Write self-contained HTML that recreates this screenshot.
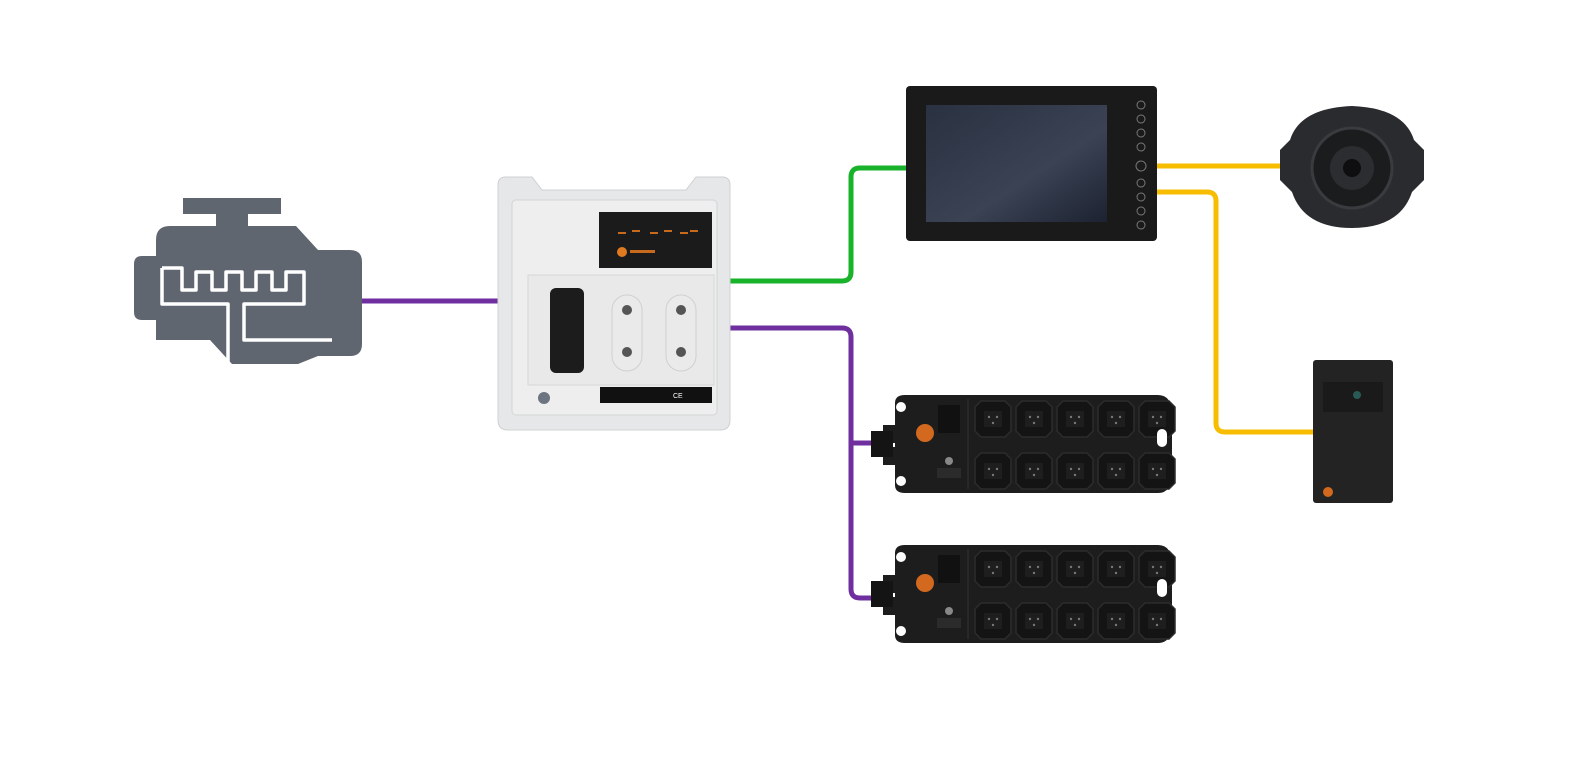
<!DOCTYPE html>
<html><head><style>html,body{margin:0;padding:0;background:#fff;}svg{display:block}</style></head>
<body>
<svg width="1595" height="761" viewBox="0 0 1595 761" xmlns="http://www.w3.org/2000/svg">
<defs>
<linearGradient id="scr" x1="0" y1="0" x2="1" y2="1"><stop offset="0" stop-color="#2a3140"/><stop offset="0.6" stop-color="#3a4254"/><stop offset="1" stop-color="#1c2230"/></linearGradient>
<g id="conn"><path d="M0 6 L6 0 H30 L36 6 V30 L30 36 H6 L0 30 Z" fill="#141414" stroke="#2c2c2c" stroke-width="1.5"/><rect x="9" y="10" width="18" height="16" fill="#1e1e1e"/><circle cx="14" cy="16" r="1.2" fill="#777"/><circle cx="22" cy="16" r="1.2" fill="#777"/><circle cx="18" cy="22" r="1.2" fill="#777"/></g>
<g id="io">
<path d="M12 8 Q12 0 22 0 H275 Q289 0 289 20 V78 Q289 98 275 98 H22 Q12 98 12 90 V70 H0 V52 H12 V48 H0 V30 H12 Z" fill="#1d1d1d"/>
<circle cx="18" cy="12" r="5" fill="#fff"/><circle cx="18" cy="86" r="5" fill="#fff"/>
<rect x="-12" y="36" width="22" height="26" fill="#141414"/>
<circle cx="42" cy="38" r="9" fill="#d2691e"/>
<rect x="55" y="10" width="22" height="28" fill="#111"/>
<circle cx="66" cy="66" r="4" fill="#888"/>
<rect x="54" y="73" width="24" height="10" fill="#2b2b2b"/>
<line x1="85" y1="4" x2="85" y2="94" stroke="#333"/>
<use href="#conn" x="92" y="6"/><use href="#conn" x="133" y="6"/><use href="#conn" x="174" y="6"/><use href="#conn" x="215" y="6"/><use href="#conn" x="256" y="6"/>
<use href="#conn" x="92" y="58"/><use href="#conn" x="133" y="58"/><use href="#conn" x="174" y="58"/><use href="#conn" x="215" y="58"/><use href="#conn" x="256" y="58"/>
<rect x="274" y="34" width="10" height="18" rx="5" fill="#fff"/>
</g>
</defs>

<!-- connectors -->
<g fill="none" stroke-width="5" stroke-linecap="butt">
<path d="M362 301 H500" stroke="#6f2f9f"/>
<path d="M730 281 H842 Q851 281 851 272 V177 Q851 168 860 168 H910" stroke="#19b32b"/>
<path d="M730 328 H842 Q851 328 851 337 V589 Q851 598 860 598 H880" stroke="#6f2f9f"/>
<path d="M851 443 H880" stroke="#6f2f9f"/>
<path d="M1155 166 H1282" stroke="#f7bd00"/>
<path d="M1155 192 H1207 Q1216 192 1216 201 V423 Q1216 432 1225 432 H1316" stroke="#f7bd00"/>
</g>

<!-- engine -->
<g fill="#5f6670">
<rect x="183" y="198" width="98" height="16"/>
<rect x="216" y="210" width="32" height="22"/>
<path d="M180 226 H296 L318 250 H350 Q362 250 362 262 V344 Q362 356 350 356 H318 L298 364 H232 L210 340 H156 V320 H142 Q134 320 134 312 V264 Q134 256 142 256 H156 V240 Q156 226 170 226 Z"/>
</g>
<g fill="none" stroke="#fff" stroke-width="3.5" stroke-linejoin="round">
<path d="M162 268 H182 V290 H196 V272 H212 V290 H226 V272 H242 V290 H256 V272 H272 V290 H286 V272 H304 V304 H244 V340 H332"/>
<path d="M162 268 V304 H228 V364"/>
</g>

<!-- controller -->
<path d="M498 185 Q498 177 506 177 H532 L542 190 H686 L696 177 H722 Q730 177 730 185 V420 Q730 430 720 430 H508 Q498 430 498 420 Z" fill="#e6e7e8" stroke="#cfd0d2"/>
<rect x="512" y="200" width="205" height="215" rx="4" fill="#eeeeef" stroke="#d3d4d5"/>
<rect x="599" y="212" width="113" height="56" fill="#1b1b1b"/>
<g fill="#c86a1d"><rect x="618" y="232" width="8" height="2"/><rect x="632" y="230" width="8" height="2"/><rect x="650" y="232" width="8" height="2"/><rect x="664" y="230" width="8" height="2"/><rect x="680" y="232" width="8" height="2"/><rect x="690" y="230" width="8" height="2"/></g>
<circle cx="622" cy="252" r="5" fill="#e07a20"/><rect x="630" y="250" width="25" height="3" fill="#c86a1d"/>
<rect x="528" y="275" width="186" height="110" fill="#e9e9ea" stroke="#d6d6d7"/>
<rect x="550" y="288" width="34" height="85" rx="6" fill="#1c1c1c"/>
<rect x="612" y="295" width="30" height="76" rx="15" fill="#eaeaea" stroke="#d0d0d0"/>
<rect x="666" y="295" width="30" height="76" rx="15" fill="#eaeaea" stroke="#d0d0d0"/>
<circle cx="627" cy="310" r="5" fill="#555"/><circle cx="627" cy="352" r="5" fill="#555"/>
<circle cx="681" cy="310" r="5" fill="#555"/><circle cx="681" cy="352" r="5" fill="#555"/>
<circle cx="544" cy="398" r="6" fill="#6c7480"/>
<rect x="600" y="387" width="112" height="16" fill="#111"/>
<text x="673" y="398" font-family="Liberation Sans, sans-serif" font-size="7" fill="#fff">CE</text>

<!-- display -->
<rect x="906" y="86" width="251" height="155" rx="4" fill="#1a1a1a"/>
<rect x="926" y="105" width="181" height="117" fill="url(#scr)"/>
<g fill="none" stroke="#777" stroke-width="1">
<circle cx="1141" cy="105" r="4"/><circle cx="1141" cy="119" r="4"/><circle cx="1141" cy="133" r="4"/><circle cx="1141" cy="147" r="4"/>
<circle cx="1141" cy="166" r="5"/>
<circle cx="1141" cy="183" r="4"/><circle cx="1141" cy="197" r="4"/><circle cx="1141" cy="211" r="4"/><circle cx="1141" cy="225" r="4"/>
</g>

<!-- camera -->
<path d="M1290 140 Q1300 108 1352 106 Q1404 108 1414 140 L1424 150 V180 L1412 192 Q1400 228 1352 228 Q1304 228 1292 192 L1280 180 V150 Z" fill="#2a2b2e"/>
<circle cx="1352" cy="168" r="40" fill="#1b1c1e" stroke="#3a3b3e" stroke-width="3"/>
<circle cx="1352" cy="168" r="22" fill="#2c2d30"/>
<circle cx="1352" cy="168" r="9" fill="#0e0e10"/>

<!-- box -->
<rect x="1313" y="360" width="80" height="143" rx="3" fill="#232323"/>
<rect x="1323" y="382" width="60" height="30" fill="#1a1a1a"/>
<circle cx="1357" cy="395" r="4" fill="#2a5a55"/>
<circle cx="1328" cy="492" r="5" fill="#d2691e"/>

<!-- io modules -->
<use href="#io" x="883" y="395"/>
<use href="#io" x="883" y="545"/>
</svg>
</body></html>
